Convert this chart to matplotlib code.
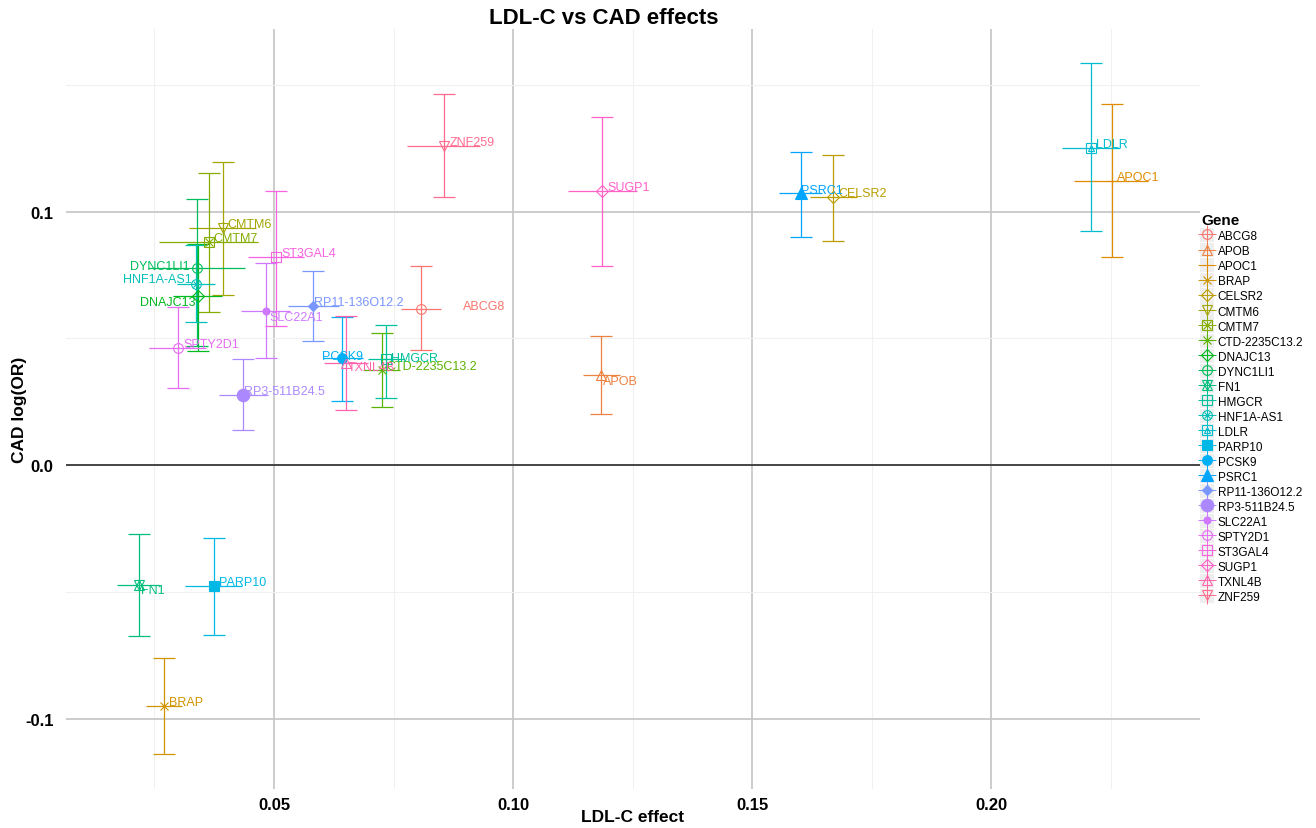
import numpy as np
import matplotlib
matplotlib.use("Agg")
import matplotlib.pyplot as plt
from matplotlib.lines import Line2D
from matplotlib.legend_handler import HandlerTuple
from matplotlib.patches import Rectangle

plt.rcParams["font.family"] = ["Liberation Sans", "DejaVu Sans"]

# values
genes = ["ABCG8", "APOB", "APOC1", "BRAP", "CELSR2", "CMTM6", "CMTM7",
         "CTD-2235C13.2", "DNAJC13", "DYNC1LI1", "FN1", "HMGCR", "HNF1A-AS1",
         "LDLR", "PARP10", "PCSK9", "PSRC1", "RP11-136O12.2", "RP3-511B24.5",
         "SLC22A1", "SPTY2D1", "ST3GAL4", "SUGP1", "TXNL4B", "ZNF259"]
ldl = [0.0808, 0.1184, 0.2252, 0.0270, 0.1670, 0.0393, 0.0363, 0.0725, 0.0340,
       0.0338, 0.0218, 0.0734, 0.0337, 0.2209, 0.0374, 0.0643, 0.1602, 0.0582,
       0.0436, 0.0483, 0.0299, 0.0504, 0.1186, 0.0651, 0.0856]
ldl_lo = [0.0765, 0.1146, 0.2174, 0.0232, 0.1621, 0.0323, 0.0260, 0.0686, 0.0288,
          0.0237, 0.0172, 0.0697, 0.0297, 0.2149, 0.0314, 0.0603, 0.1557, 0.0530,
          0.0385, 0.0432, 0.0239, 0.0446, 0.1114, 0.0605, 0.0779]
ldl_hi = [0.0849, 0.1224, 0.2329, 0.0308, 0.1719, 0.0463, 0.0467, 0.0764, 0.0392,
          0.0439, 0.0262, 0.0771, 0.0377, 0.2269, 0.0434, 0.0687, 0.1647, 0.0635,
          0.0487, 0.0533, 0.0358, 0.0563, 0.1259, 0.0697, 0.0931]
cad = [0.0615, 0.0355, 0.1122, -0.0952, 0.1056, 0.0935, 0.0878, 0.0376, 0.0668,
       0.0777, -0.0472, 0.0418, 0.0714, 0.1250, -0.0479, 0.0421, 0.1072, 0.0626,
       0.0277, 0.0609, 0.0462, 0.0819, 0.1082, 0.0402, 0.1257]
cad_lo = [0.0453, 0.0200, 0.0819, -0.1140, 0.0885, 0.0672, 0.0605, 0.0230, 0.0451,
          0.0470, -0.0676, 0.0263, 0.0563, 0.0922, -0.0669, 0.0254, 0.0898, 0.0488,
          0.0138, 0.0421, 0.0304, 0.0550, 0.0786, 0.0218, 0.1056]
cad_hi = [0.0785, 0.0510, 0.1424, -0.0761, 0.1223, 0.1197, 0.1152, 0.0519, 0.0872,
          0.1049, -0.0271, 0.0552, 0.0869, 0.1585, -0.0287, 0.0583, 0.1233, 0.0764,
          0.0418, 0.0797, 0.0622, 0.1082, 0.1374, 0.0587, 0.1463]
x_ticks = [0.05, 0.10, 0.15, 0.20]
x_ticklabels = ["0.05", "0.10", "0.15", "0.20"]
y_ticks = [-0.1, 0.0, 0.1]
y_ticklabels = ["-0.1", "0.0", "0.1"]

# label nudges in pixels (dx, dy, ha)
label_pos = {
    "ABCG8": (42, 3, "left"), "APOB": (2, -6, "left"), "DNAJC13": (-2, -6, "right"),
    "DYNC1LI1": (-7, 2, "right"), "HNF1A-AS1": (-4, 5, "right"), "FN1": (2, -5, "left"),
    "HMGCR": (5, 1, "left"), "PCSK9": (-20, 2, "left"), "PSRC1": (0, 3, "left"),
    "RP11-136O12.2": (1, 4, "left"), "RP3-511B24.5": (1, 4, "left"),
    "SLC22A1": (4, -6, "left"), "TXNL4B": (2, -4, "left"),
}


def hue_colour(h, c=100.0, l=65.0):
    # polar LUV -> sRGB, like ggplot's hue_pal
    hr = np.deg2rad(h)
    u, v = c * np.cos(hr), c * np.sin(hr)
    xn, yn, zn = 95.047, 100.0, 108.883
    un = 4 * xn / (xn + 15 * yn + 3 * zn)
    vn = 9 * yn / (xn + 15 * yn + 3 * zn)
    Y = yn * ((l + 16) / 116) ** 3
    up = u / (13 * l) + un
    vp = v / (13 * l) + vn
    X = Y * 9 * up / (4 * vp)
    Z = Y * (12 - 3 * up - 20 * vp) / (4 * vp)
    m = np.array([[3.2406, -1.5372, -0.4986],
                  [-0.9689, 1.8758, 0.0415],
                  [0.0557, -0.2040, 1.0570]])
    rgb = m @ (np.array([X, Y, Z]) / 100)
    rgb = np.where(rgb <= 0.0031308, 12.92 * rgb, 1.055 * rgb ** (1 / 2.4) - 0.055)
    return tuple(np.clip(rgb, 0, 1))


colours = [hue_colour(15 + i * 360 / len(genes)) for i in range(len(genes))]

# ggplot shapes 1..25 as stacked matplotlib markers (marker, filled, size)
shape_specs = {
    1: [("o", False, 7)], 2: [("^", False, 7)], 3: [("+", False, 8)],
    4: [("x", False, 6)], 5: [("D", False, 6)], 6: [("v", False, 7)],
    7: [("s", False, 6.5), ("x", False, 6)], 8: [("+", False, 8), ("x", False, 6)],
    9: [("D", False, 6.5), ("+", False, 9)], 10: [("o", False, 7), ("+", False, 7)],
    11: [("^", False, 7), ("v", False, 7)], 12: [("s", False, 6.5), ("+", False, 6.5)],
    13: [("o", False, 7), ("x", False, 5)], 14: [("s", False, 6.5), ("^", False, 4)],
    15: [("s", True, 7)], 16: [("o", True, 7)], 17: [("^", True, 8)],
    18: [("D", True, 5.5)], 19: [("o", True, 9)], 20: [("o", True, 5)],
    21: [("o", False, 7)], 22: [("s", False, 7)], 23: [("D", False, 6)],
    24: [("^", False, 7)], 25: [("v", False, 7)],
}


class KeyHandler(HandlerTuple):
    def create_artists(self, legend, orig_handle, xdescent, ydescent,
                       width, height, fontsize, trans):
        bg = Rectangle((-xdescent - 1, -ydescent - 1), width + 2, height + 2,
                       facecolor="#eeeeee", edgecolor="none", transform=trans)
        arts = super().create_artists(legend, orig_handle, xdescent, ydescent,
                                      width, height, fontsize, trans)
        return [bg] + arts


fig = plt.figure(figsize=(13.16, 8.29), dpi=100)
ax = fig.add_axes([66 / 1316, 39 / 829, 1134 / 1316, 760 / 829])

ax.set_xlim(0.00649, 0.2437)
ax.set_ylim(-0.1278, 0.172)
ax.set_xticks(x_ticks)
ax.set_xticklabels(x_ticklabels)
ax.set_yticks(y_ticks)
ax.set_yticklabels(y_ticklabels)
ax.set_xticks([0.025, 0.075, 0.125, 0.175, 0.225], minor=True)
ax.set_yticks([-0.05, 0.05, 0.15], minor=True)
ax.grid(which="major", color="#c4c4c4", lw=1.2)
ax.grid(which="minor", color="#f0f0f0", lw=0.8)
ax.set_axisbelow(True)
for s in ax.spines.values():
    s.set_visible(False)
ax.tick_params(which="both", length=0)
ax.tick_params(axis="x", pad=6)
ax.tick_params(axis="y", pad=9)
for t in ax.get_xticklabels() + ax.get_yticklabels():
    t.set_fontsize(12)
    t.set_fontweight("bold")
ax.axhline(0, color="#222222", lw=1.1, zorder=1)

handles = []
for i, g in enumerate(genes):
    c = colours[i]
    x, y = ldl[i], cad[i]
    ax.errorbar([x], [y], yerr=[[y - cad_lo[i]], [cad_hi[i] - y]], fmt="none",
                ecolor=c, elinewidth=0.9, capsize=8, capthick=0.9, zorder=2)
    ax.errorbar([x], [y], xerr=[[x - ldl_lo[i]], [ldl_hi[i] - x]], fmt="none",
                ecolor=c, elinewidth=0.9, capsize=0, zorder=2)
    key = [Line2D([], [], color=c, marker="+", markersize=13, mew=0.7, lw=0)]
    for mk, filled, ms in shape_specs[i + 1]:
        ax.plot([x], [y], marker=mk, ms=ms, mec=c, mfc=c if filled else "none",
                mew=0.8, lw=0, zorder=3)
        key.append(Line2D([], [], marker=mk, ms=ms, mec=c,
                          mfc=c if filled else "none", mew=0.8, lw=0))
    handles.append(tuple(key))
    dx, dy, ha = label_pos.get(g, (5, 4, "left"))
    ax.annotate(g, (x, y), xytext=(dx, dy), textcoords="offset pixels",
                ha=ha, va="center", fontsize=9, color=c, zorder=4)

leg = fig.legend(handles, genes, loc="upper left",
                 bbox_to_anchor=(1193 / 1316, 1 - 206 / 829),
                 handler_map={tuple: KeyHandler()}, frameon=False,
                 fontsize=8.5, handlelength=1.0, handleheight=1.1,
                 handletextpad=0.4, labelspacing=0.2, borderpad=0.2,
                 title="Gene", alignment="left",
                 title_fontproperties={"weight": "bold", "size": 11})

fig.text(604 / 1316, 1 - 19 / 829, "LDL-C vs CAD effects", ha="center",
         va="center", fontsize=16, fontweight="bold")
fig.text(633 / 1316, 1 - 818 / 829, "LDL-C effect", ha="center", va="center",
         fontsize=12.5, fontweight="bold")
fig.text(20 / 1316, 1 - 410 / 829, "CAD log(OR)", ha="center", va="center",
         rotation=90, fontsize=12.5, fontweight="bold")

fig.savefig("out.png", dpi=100, facecolor="white")
